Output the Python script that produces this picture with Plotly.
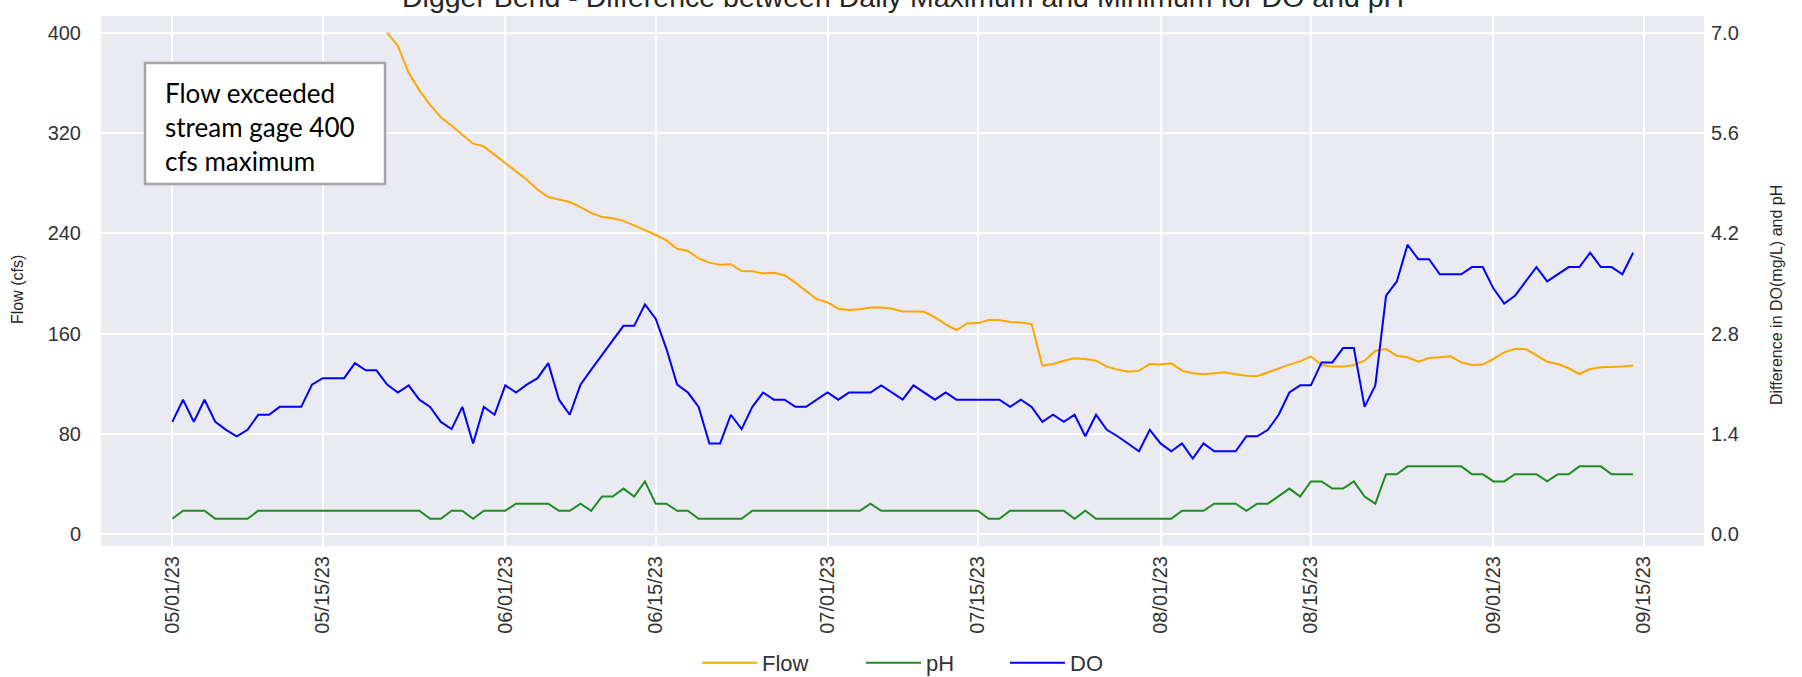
import pandas as pd
import plotly.graph_objects as go

# ---------------- data ----------------
start_date = "2023-05-01"
n_days = 137

flow_cfs = [None] * 20 + [
    400, 389.4, 368, 354, 342.5, 332.5, 325.8, 318.7, 311.5, 309.4,
    302.8, 296, 289.5, 282.8, 275, 269, 267, 265, 261, 256.4,
    253, 252, 250, 246, 242.6, 238.7, 234.4, 227.8, 226, 220,
    216.7, 215, 215.4, 210, 209.8, 208, 208.7, 206.6, 200.8, 194,
    187.6, 185, 180, 179, 179.6, 181, 181, 180, 177.8, 177.8,
    177.5, 173, 167.5, 163, 168.2, 168.5, 171, 171, 169.3, 169,
    167.7, 134.6, 135.9, 138.5, 140.4, 139.9, 138.5, 133.8, 131.4, 129.8,
    130.6, 135.9, 135.4, 136.4, 130.6, 128.5, 127.7, 128.5, 129.3, 127.7,
    126.6, 126.1, 129.3, 132.5, 135.4, 138, 142, 135.1, 133.8, 133.8,
    135.1, 138.5, 146.5, 147.8, 142.5, 141.2, 137.7, 140.7, 141.2, 142,
    137.2, 135.1, 135.4, 139.9, 145.2, 147.8, 147.8, 142.5, 137.7, 135.9,
    132.5, 127.9, 131.9, 133.2, 133.2, 133.8, 134.6,
]

ph_diff = [
    0.22, 0.33, 0.33, 0.33, 0.22, 0.22, 0.22, 0.22, 0.33, 0.33,
    0.33, 0.33, 0.33, 0.33, 0.33, 0.33, 0.33, 0.33, 0.33, 0.33,
    0.33, 0.33, 0.33, 0.33, 0.22, 0.22, 0.33, 0.33, 0.22, 0.33,
    0.33, 0.33, 0.43, 0.43, 0.43, 0.43, 0.33, 0.33, 0.43, 0.33,
    0.53, 0.53, 0.64, 0.53, 0.74, 0.43, 0.43, 0.33, 0.33, 0.22,
    0.22, 0.22, 0.22, 0.22, 0.33, 0.33, 0.33, 0.33, 0.33, 0.33,
    0.33, 0.33, 0.33, 0.33, 0.33, 0.43, 0.33, 0.33, 0.33, 0.33,
    0.33, 0.33, 0.33, 0.33, 0.33, 0.33, 0.22, 0.22, 0.33, 0.33,
    0.33, 0.33, 0.33, 0.33, 0.22, 0.33, 0.22, 0.22, 0.22, 0.22,
    0.22, 0.22, 0.22, 0.22, 0.33, 0.33, 0.33, 0.43, 0.43, 0.43,
    0.33, 0.43, 0.43, 0.53, 0.64, 0.53, 0.74, 0.74, 0.64, 0.64,
    0.74, 0.53, 0.43, 0.84, 0.84, 0.95, 0.95, 0.95, 0.95, 0.95,
    0.95, 0.84, 0.84, 0.74, 0.74, 0.84, 0.84, 0.84, 0.74, 0.84,
    0.84, 0.95, 0.95, 0.95, 0.84, 0.84, 0.84,
]

do_diff = [
    1.57, 1.88, 1.57, 1.88, 1.57, 1.46, 1.37, 1.46, 1.67, 1.67,
    1.78, 1.78, 1.78, 2.09, 2.18, 2.18, 2.18, 2.39, 2.29, 2.29,
    2.09, 1.98, 2.08, 1.88, 1.78, 1.57, 1.47, 1.78, 1.27, 1.78,
    1.67, 2.08, 1.98, 2.09, 2.18, 2.39, 1.88, 1.67, 2.09, 2.30,
    2.50, 2.70, 2.91, 2.91, 3.21, 3.01, 2.59, 2.09, 1.98, 1.78,
    1.27, 1.27, 1.67, 1.47, 1.78, 1.98, 1.88, 1.88, 1.78, 1.78,
    1.88, 1.98, 1.88, 1.98, 1.98, 1.98, 2.08, 1.98, 1.88, 2.08,
    1.98, 1.88, 1.98, 1.88, 1.88, 1.88, 1.88, 1.88, 1.78, 1.88,
    1.78, 1.57, 1.67, 1.57, 1.67, 1.37, 1.67, 1.46, 1.37, 1.27,
    1.16, 1.46, 1.27, 1.16, 1.27, 1.06, 1.27, 1.16, 1.16, 1.16,
    1.37, 1.37, 1.46, 1.67, 1.98, 2.08, 2.08, 2.40, 2.40, 2.60,
    2.60, 1.78, 2.08, 3.33, 3.53, 4.04, 3.84, 3.84, 3.63, 3.63,
    3.63, 3.73, 3.73, 3.43, 3.22, 3.33, 3.53, 3.73, 3.53, 3.63,
    3.73, 3.73, 3.93, 3.73, 3.73, 3.63, 3.93,
]

x_tick_dates = ["2023-05-01", "2023-05-15", "2023-06-01", "2023-06-15", "2023-07-01",
                "2023-07-15", "2023-08-01", "2023-08-15", "2023-09-01", "2023-09-15"]
x_tick_labels = ["05/01/23", "05/15/23", "06/01/23", "06/15/23", "07/01/23",
                 "07/15/23", "08/01/23", "08/15/23", "09/01/23", "09/15/23"]
flow_ticks = [0, 80, 160, 240, 320, 400]
diff_ticks = [0.0, 1.4, 2.8, 4.2, 5.6, 7.0]
diff_tick_labels = ["0.0", "1.4", "2.8", "4.2", "5.6", "7.0"]

title_text = "Digger Bend - Difference between Daily Maximum and Minimum for DO and pH"
note_lines = ["Flow exceeded", "stream gage 400", "cfs maximum"]

# ---------------- figure ----------------
dates = pd.date_range(start_date, periods=n_days, freq="D")

W, H = 1802, 677
X0, X1, Y0, Y1 = 101, 1704, 16, 546  # plot area in pixels


def px(x):
    return (x - X0) / (X1 - X0)


def py(y):
    return (Y1 - y) / (Y1 - Y0)


FONT = "Liberation Sans, Arial, sans-serif"

fig = go.Figure()
fig.add_trace(go.Scatter(x=dates, y=flow_cfs, name="Flow", mode="lines",
                         line=dict(color="#FFA500", width=2), yaxis="y", legend="legend"))
fig.add_trace(go.Scatter(x=dates, y=ph_diff, name="pH", mode="lines",
                         line=dict(color="#1E8C1E", width=2), yaxis="y2", legend="legend2"))
fig.add_trace(go.Scatter(x=dates, y=do_diff, name="DO", mode="lines",
                         line=dict(color="#0000FF", width=2), yaxis="y2", legend="legend3"))

d0 = pd.Timestamp(start_date)
x_range = [d0 - pd.Timedelta(days=6.64), d0 + pd.Timedelta(days=142.6)]

tick_font = dict(family=FONT, size=20, color="#333333")
legend_font = dict(family=FONT, size=22, color="#333333")


def legend_at(x_left):
    return dict(orientation="h", x=px(x_left), y=py(663), xanchor="left", yanchor="middle",
                font=legend_font, bgcolor="rgba(0,0,0,0)", itemwidth=55)


fig.update_layout(
    width=W, height=H,
    margin=dict(l=X0, r=W - X1, t=Y0, b=H - Y1, autoexpand=False),
    paper_bgcolor="white",
    plot_bgcolor="#EAEAF2",
    showlegend=True,
    legend=legend_at(697),
    legend2=legend_at(861),
    legend3=legend_at(1005),
    xaxis=dict(type="date", range=x_range, tickvals=x_tick_dates, ticktext=x_tick_labels,
               tickangle=-90, tickfont=tick_font, showgrid=True, gridcolor="white",
               gridwidth=1.6, zeroline=False, showline=False, ticks="",
               ticklabelstandoff=5, automargin=False),
    yaxis=dict(range=[-9.2, 413.3], tickvals=flow_ticks, tickfont=tick_font,
               showgrid=True, gridcolor="white", gridwidth=1.6, zeroline=False,
               showline=False, ticks="", ticklabelstandoff=19, automargin=False),
    yaxis2=dict(range=[-9.2 * 7 / 400, 413.3 * 7 / 400], tickvals=diff_ticks,
                ticktext=diff_tick_labels, tickfont=tick_font, overlaying="y", side="right",
                showgrid=False, zeroline=False, showline=False, ticks="",
                ticklabelstandoff=6, automargin=False),
)

# title (partially cut off at the top as in the reference)
fig.add_annotation(text=title_text, xref="paper", yref="paper", x=px(903), y=py(-3),
                   xanchor="center", yanchor="middle", showarrow=False,
                   font=dict(family=FONT, size=28.5, color="#262626"))

# axis titles
fig.add_annotation(text="Flow (cfs)", xref="paper", yref="paper", x=px(17), y=py(290),
                   xanchor="center", yanchor="middle", textangle=-90, showarrow=False,
                   font=dict(family=FONT, size=16, color="#262626"))
fig.add_annotation(text="Difference in DO(mg/L) and pH", xref="paper", yref="paper",
                   x=px(1776), y=py(295), xanchor="center", yanchor="middle", textangle=-90,
                   showarrow=False, font=dict(family=FONT, size=16, color="#262626"))

# note box
fig.add_shape(type="rect", xref="paper", yref="paper", x0=px(145), x1=px(385), y0=py(184),
              y1=py(63), line=dict(color="#A5A5A5", width=2.5), fillcolor="white", layer="above")
for line_text, baseline in zip(note_lines, [99, 133.3, 166.7]):
    fig.add_annotation(text=line_text, xref="paper", yref="paper", x=px(163),
                       y=py(baseline - 6), xanchor="left", yanchor="middle", showarrow=False,
                       font=dict(family="Lato, Carlito, sans-serif", size=26, color="black"))

fig.write_html("out.html", config={"displayModeBar": False},
               post_script="document.body.style.margin='0px';")
